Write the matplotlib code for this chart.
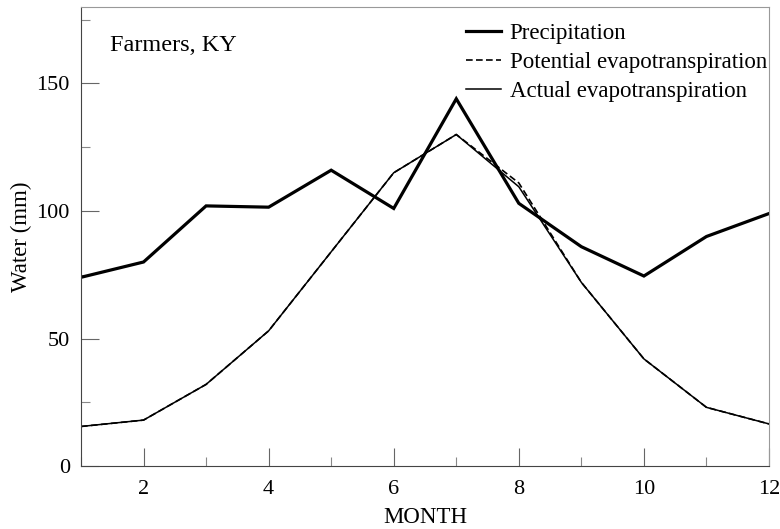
import matplotlib
matplotlib.use("Agg")
import matplotlib.pyplot as plt
from matplotlib.ticker import MultipleLocator

months = [1, 2, 3, 4, 5, 6, 7, 8, 9, 10, 11, 12]
precipitation = [74, 80, 102, 101.5, 116, 101, 144, 103, 86, 74.5, 90, 99]
potential_et = [15.5, 18, 32, 53, 84, 115, 130, 111, 72, 42, 23, 16.5]
actual_et = [15.5, 18, 32, 53, 84, 115, 130, 109.5, 72, 42, 23, 16.5]

plt.rcParams['font.family'] = ['Liberation Serif', 'DejaVu Serif']

fig = plt.figure(figsize=(7.8, 5.29), dpi=100)
ax = fig.add_axes([81/780, 1-466/529, (769-81)/780, (466-7)/529])

ax.plot(months, precipitation, color='black', lw=2.3, label='Precipitation', solid_joinstyle='miter')
ax.plot(months, potential_et, color='black', lw=1.2, ls=(0, (4, 2)), label='Potential evapotranspiration')
ax.plot(months, actual_et, color='black', lw=1.1, label='Actual evapotranspiration')

ax.set_xlim(1, 12)
ax.set_ylim(0, 180)
ax.xaxis.set_major_locator(MultipleLocator(2))
ax.xaxis.set_minor_locator(MultipleLocator(1))
ax.yaxis.set_major_locator(MultipleLocator(50))
ax.yaxis.set_minor_locator(MultipleLocator(25))
ax.tick_params(which='major', direction='in', length=13, width=0.8, color='#666666', labelsize=16)
ax.tick_params(which='minor', direction='in', length=6.5, width=0.8, color='#888888')
ax.tick_params(axis='x', which='major', pad=10)
ax.tick_params(axis='y', which='major', pad=8)

for s in ['left', 'bottom']:
    ax.spines[s].set_color('#444444')
for s in ['top', 'right']:
    ax.spines[s].set_color('#999999')

ax.set_xlabel('MONTH', fontsize=16.5, labelpad=6)
ax.set_ylabel('Water (mm)', fontsize=16.5, labelpad=3)

ax.text(0.042, 0.917, 'Farmers, KY', transform=ax.transAxes, fontsize=17.5, va='center', ha='left')

ax.legend(loc='upper right', frameon=False, fontsize=16.5, handlelength=1.5, handletextpad=0.4,
          labelspacing=0.35, borderaxespad=0.2, bbox_to_anchor=(1.017, 0.995))

fig.savefig('out.png', dpi=100)
